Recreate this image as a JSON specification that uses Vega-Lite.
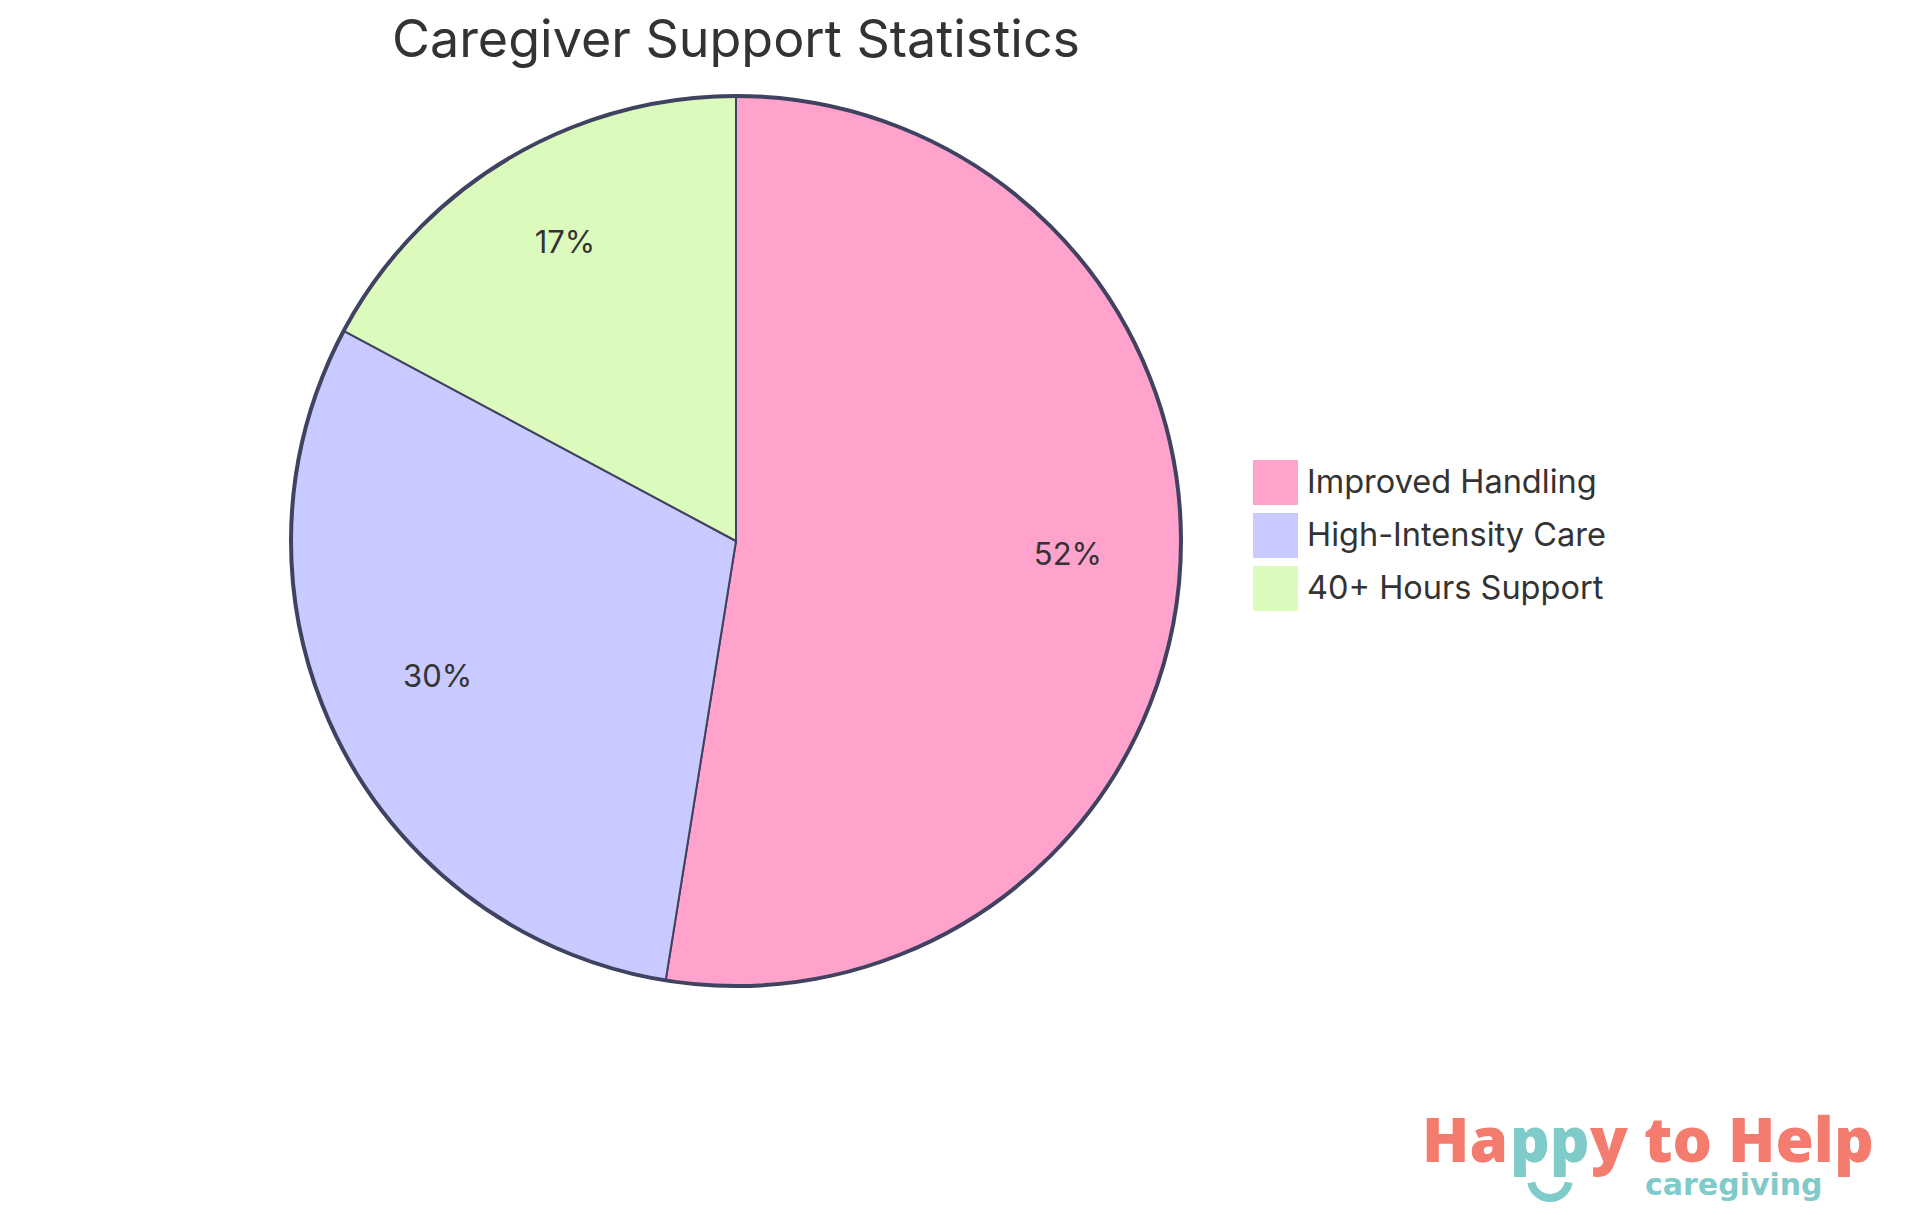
{
  "$schema": "https://vega.github.io/schema/vega-lite/v6.json",
  "width": 890,
  "height": 890,
  "autosize": "none",
  "padding": {"left": 291, "top": 96, "right": 739, "bottom": 229},
  "background": "white",
  "title": {"text": "Caregiver Support Statistics", "anchor": "middle", "frame": "group", "font": "Inter", "fontSize": 52, "fontWeight": 400, "color": "#333333", "offset": 20},
  "config": {"view": {"stroke": null}, "font": "Inter"},
  "layer": [
    {
      "data": {"name": "shares", "values": [
        {"category": "Improved Handling", "value": 52, "label": "52%"},
        {"category": "High-Intensity Care", "value": 30, "label": "30%"},
        {"category": "40+ Hours Support", "value": 17, "label": "17%"}
      ]},
      "layer": [
        {
          "mark": {"type": "arc", "stroke": "#3f4260", "strokeWidth": 2},
          "encoding": {
            "theta": {"field": "value", "type": "quantitative", "stack": true},
            "order": {"field": "value", "type": "quantitative", "sort": "descending"},
            "color": {
              "field": "category",
              "type": "nominal",
              "sort": ["Improved Handling", "High-Intensity Care", "40+ Hours Support"],
              "scale": {"domain": ["Improved Handling", "High-Intensity Care", "40+ Hours Support"], "range": ["#ffa2cc", "#c9caff", "#dcfabb"]},
              "legend": {
                "title": null,
                "orient": "none",
                "legendX": 962,
                "legendY": 364,
                "symbolType": "square",
                "symbolSize": 2025,
                "symbolStrokeWidth": 0,
                "symbolOpacity": 1,
                "rowPadding": 8,
                "labelOffset": 9,
                "labelFont": "Inter",
                "labelFontSize": 32.5,
                "labelColor": "#333333",
                "labelLimit": 500
              }
            }
          }
        },
        {
          "mark": {"type": "text", "radius": 333, "dy": -11, "font": "Inter", "fontSize": 31, "color": "#333333"},
          "encoding": {
            "theta": {"field": "value", "type": "quantitative", "stack": true},
            "order": {"field": "value", "type": "quantitative", "sort": "descending"},
            "text": {"field": "label", "type": "nominal"}
          }
        }
      ]
    },
    {
      "data": {"values": [{"label": "outline"}]},
      "mark": {"type": "arc", "theta": 0, "theta2": 6.2832, "outerRadius": 445, "filled": false, "fill": null, "stroke": "#3f4260", "strokeWidth": 4}
    },
    {
      "data": {"values": [{"label": "Ha"}]},
      "mark": {"type": "text", "align": "left", "baseline": "alphabetic", "font": "Open Sans", "fontWeight": 800, "fontSize": 62, "color": "#f47c6e"},
      "encoding": {
        "x": {"datum": 1422, "type": "quantitative", "scale": {"domain": [291, 1181], "nice": false, "zero": false}, "axis": null},
        "y": {"datum": 1162, "type": "quantitative", "scale": {"domain": [96, 986], "reverse": true, "nice": false, "zero": false}, "axis": null},
        "text": {"field": "label"}
      }
    },
    {
      "data": {"values": [{"label": "pp"}]},
      "mark": {"type": "text", "align": "left", "baseline": "alphabetic", "font": "Open Sans", "fontWeight": 800, "fontSize": 62, "color": "#7fcbc9"},
      "encoding": {
        "x": {"datum": 1510, "type": "quantitative", "scale": {"domain": [291, 1181], "nice": false, "zero": false}, "axis": null},
        "y": {"datum": 1162, "type": "quantitative", "scale": {"domain": [96, 986], "reverse": true, "nice": false, "zero": false}, "axis": null},
        "text": {"field": "label"}
      }
    },
    {
      "data": {"values": [{"label": "y to Help"}]},
      "mark": {"type": "text", "align": "left", "baseline": "alphabetic", "font": "Open Sans", "fontWeight": 800, "fontSize": 62, "color": "#f47c6e"},
      "encoding": {
        "x": {"datum": 1590, "type": "quantitative", "scale": {"domain": [291, 1181], "nice": false, "zero": false}, "axis": null},
        "y": {"datum": 1162, "type": "quantitative", "scale": {"domain": [96, 986], "reverse": true, "nice": false, "zero": false}, "axis": null},
        "text": {"field": "label"}
      }
    },
    {
      "data": {"values": [{"label": "caregiving"}]},
      "mark": {"type": "text", "align": "left", "baseline": "alphabetic", "font": "DejaVu Sans", "fontWeight": 700, "fontSize": 30, "color": "#7fcbc9"},
      "encoding": {
        "x": {"datum": 1645, "type": "quantitative", "scale": {"domain": [291, 1181], "nice": false, "zero": false}, "axis": null},
        "y": {"datum": 1195, "type": "quantitative", "scale": {"domain": [96, 986], "reverse": true, "nice": false, "zero": false}, "axis": null},
        "text": {"field": "label"}
      }
    },
    {
      "data": {"values": [{"label": "smile"}]},
      "mark": {"type": "arc", "theta": 1.75, "theta2": 4.53, "outerRadius": 23, "innerRadius": 15, "color": "#7fcbc9"},
      "encoding": {
        "x": {"datum": 1550, "type": "quantitative", "scale": {"domain": [291, 1181], "nice": false, "zero": false}, "axis": null},
        "y": {"datum": 1179, "type": "quantitative", "scale": {"domain": [96, 986], "reverse": true, "nice": false, "zero": false}, "axis": null}
      }
    }
  ]
}
